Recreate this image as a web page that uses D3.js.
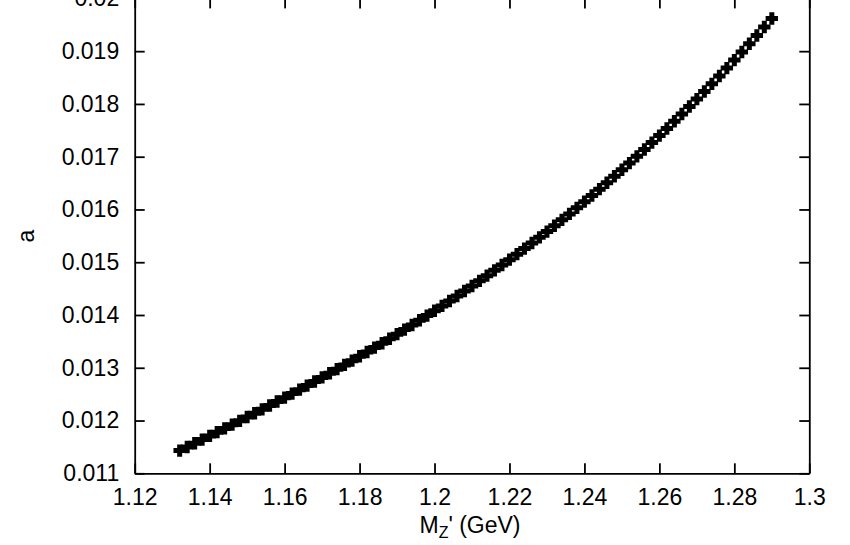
<!DOCTYPE html>
<html>
<head>
<meta charset="utf-8">
<script src="https://cdn.jsdelivr.net/npm/d3@7"></script>
<style>
  html, body { margin: 0; padding: 0; background: #fff; }
  svg { display: block; font-family: "Liberation Sans", Arial, sans-serif; }
</style>
</head>
<body>
<svg id="chart" width="850" height="545"></svg>
<script>
// --- data ---
const massValues = [
  1.132, 1.134, 1.136, 1.138, 1.140, 1.142, 1.144, 1.146, 1.148, 1.150,
  1.152, 1.154, 1.156, 1.158, 1.160, 1.162, 1.164, 1.166, 1.168, 1.170,
  1.172, 1.174, 1.176, 1.178, 1.180, 1.182, 1.184, 1.186, 1.188, 1.190,
  1.192, 1.194, 1.196, 1.198, 1.200, 1.202, 1.204, 1.206, 1.208, 1.210,
  1.212, 1.214, 1.216, 1.218, 1.220, 1.222, 1.224, 1.226, 1.228, 1.230,
  1.232, 1.234, 1.236, 1.238, 1.240, 1.242, 1.244, 1.246, 1.248, 1.250,
  1.252, 1.254, 1.256, 1.258, 1.260, 1.262, 1.264, 1.266, 1.268, 1.270,
  1.272, 1.274, 1.276, 1.278, 1.280, 1.282, 1.284, 1.286, 1.288, 1.290
];
const aValues = [
  0.011430, 0.011499, 0.011569, 0.011639, 0.011709, 0.011780, 0.011851, 0.011922, 0.011994, 0.012066,
  0.012139, 0.012212, 0.012286, 0.012360, 0.012434, 0.012510, 0.012585, 0.012662, 0.012739, 0.012817,
  0.012895, 0.012974, 0.013054, 0.013135, 0.013217, 0.013299, 0.013382, 0.013466, 0.013551, 0.013637,
  0.013723, 0.013811, 0.013900, 0.013989, 0.014080, 0.014172, 0.014265, 0.014359, 0.014454, 0.014550,
  0.014647, 0.014746, 0.014846, 0.014947, 0.015049, 0.015153, 0.015258, 0.015364, 0.015472, 0.015581,
  0.015691, 0.015803, 0.015916, 0.016031, 0.016148, 0.016266, 0.016385, 0.016506, 0.016629, 0.016753,
  0.016879, 0.017007, 0.017136, 0.017267, 0.017400, 0.017535, 0.017671, 0.017809, 0.017950, 0.018092,
  0.018235, 0.018381, 0.018529, 0.018679, 0.018831, 0.018984, 0.019140, 0.019298, 0.019458, 0.019620
];
const xTicks = [1.12, 1.14, 1.16, 1.18, 1.2, 1.22, 1.24, 1.26, 1.28, 1.3];
const yTicks = [0.011, 0.012, 0.013, 0.014, 0.015, 0.016, 0.017, 0.018, 0.019, 0.02];

// --- layout ---
const plot = { left: 134.7, right: 809.3, top: -1.6, bottom: 473.3 };
const TICK = 10;
const FONT = 23;

const svg = d3.select("#chart");

const x = d3.scaleLinear().domain([1.12, 1.3]).range([plot.left, plot.right]);
const y = d3.scaleLinear().domain([0.011, 0.02]).range([plot.bottom, plot.top]);

const fmtX = (d) => String(+d.toFixed(2));
const fmtY = (d) => String(+d.toFixed(3));

function styleAxis(g) {
  g.selectAll("path.domain").attr("stroke", "#000").attr("stroke-width", 1.8);
  g.selectAll(".tick line").attr("stroke", "#000").attr("stroke-width", 1.8);
  g.selectAll(".tick text")
    .attr("fill", "#000")
    .style("font-size", FONT + "px")
    .style("font-family", "'Liberation Sans', Arial, sans-serif");
}

// bottom + left axes with labels (inward ticks)
svg.append("g")
  .attr("transform", `translate(0,${plot.bottom})`)
  .call(d3.axisBottom(x).tickValues(xTicks).tickFormat(fmtX)
    .tickSizeInner(-TICK).tickSizeOuter(0).tickPadding(15.5))
  .call(styleAxis);

svg.append("g")
  .attr("transform", `translate(${plot.left},0)`)
  .call(d3.axisLeft(y).tickValues(yTicks).tickFormat(fmtY)
    .tickSizeInner(-TICK).tickSizeOuter(0).tickPadding(15.5))
  .call(styleAxis);

// top + right mirror axes, no labels
svg.append("g")
  .attr("transform", `translate(0,${plot.top})`)
  .call(d3.axisTop(x).tickValues(xTicks).tickFormat("")
    .tickSizeInner(-TICK).tickSizeOuter(0))
  .call(styleAxis);

svg.append("g")
  .attr("transform", `translate(${plot.right},0)`)
  .call(d3.axisRight(y).tickValues(yTicks).tickFormat("")
    .tickSizeInner(-TICK).tickSizeOuter(0))
  .call(styleAxis);

// --- points (gnuplot style "+") ---
const points = massValues.map((m, i) => ({ m, a: aValues[i] }));
const H = 6.2;

svg.append("g")
  .selectAll("path.pt")
  .data(points)
  .enter()
  .append("path")
  .attr("class", "pt")
  .attr("transform", (d) => `translate(${x(d.m)},${y(d.a)})`)
  .attr("d", `M${-H},0H${H}M0,${-H}V${H}`)
  .attr("fill", "none")
  .attr("stroke", "#000")
  .attr("stroke-width", 5);

// --- axis titles ---
svg.append("text")
  .attr("transform", `translate(34,236) rotate(-90)`)
  .attr("text-anchor", "middle")
  .style("font-size", FONT + "px")
  .text("a");

const xt = svg.append("text")
  .attr("x", 470)
  .attr("y", 533)
  .attr("text-anchor", "middle")
  .style("font-size", FONT + "px");
xt.append("tspan").text("M");
xt.append("tspan").attr("dy", 5).style("font-size", "16px").text("Z");
xt.append("tspan").attr("dy", -5).text("' (GeV)");
</script>
</body>
</html>
